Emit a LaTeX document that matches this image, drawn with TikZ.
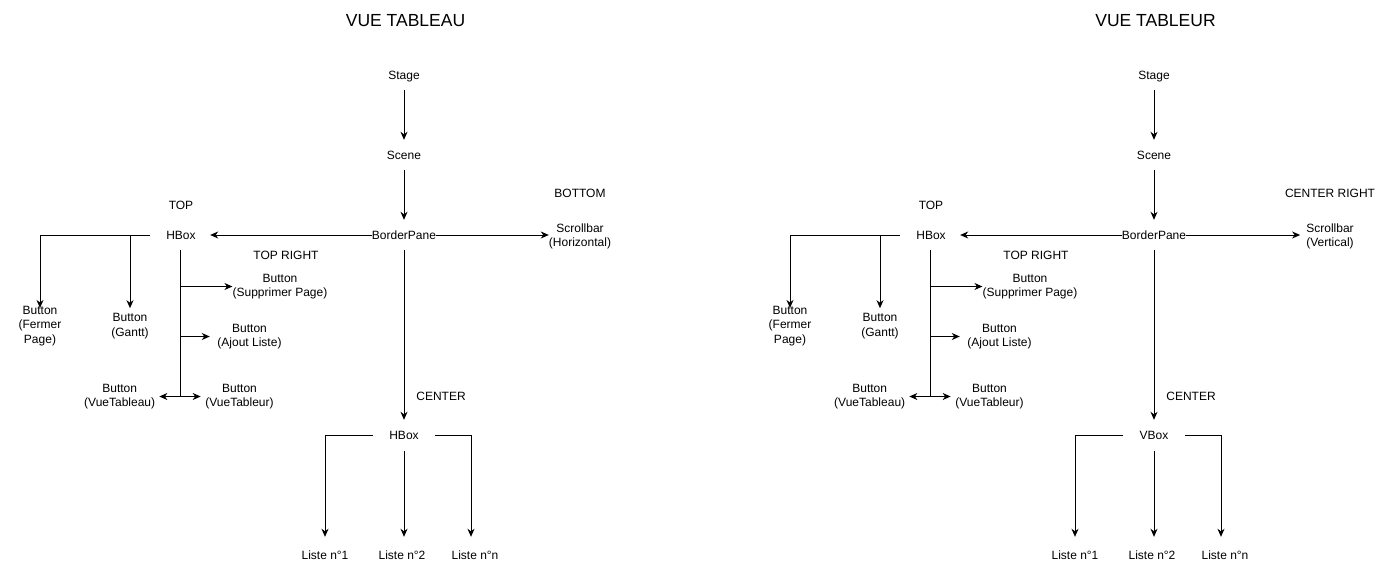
\documentclass[tikz,border=0pt]{standalone}
\usepackage{fontspec}
\setmainfont{Liberation Sans}
\usetikzlibrary{arrows.meta}
\tikzset{
  lbl/.style={inner sep=0pt, align=center, font=\fontsize{12}{14.5}\selectfont, text height=8.6pt, text depth=0pt},
  mlbl/.style={inner sep=0pt, align=center, font=\fontsize{12}{14.5}\selectfont, yshift=-1pt},
  ttl/.style={inner sep=0pt, font=\fontsize{17.5}{20}\selectfont, text height=12.6pt, text depth=0pt},
  conn/.style={line width=1pt, draw=black},
  tip/.tip={Stealth[length=8pt,width=7pt,inset=2.5pt]},
  arr/.style={conn, -tip},
  darr/.style={conn, tip-tip},
}
\newcommand\drawhalf[5]{%
  \node[ttl] (title) at (405.5,20) {#1};
  \node[lbl] (stage) at (404,75) {Stage};
  \node[lbl] (scene) at (404,155) {Scene};
  \node[lbl] (bp) at (404,235) {BorderPane};
  \node[lbl] (hbox) at (181,235) {HBox};
  \node[mlbl] (scroll) at (580,235.5) {Scrollbar\\#3};
  \node[lbl] (poslbl) at (580,193) {#2};
  \node[lbl] (toplbl) at (181,205) {TOP};
  \node[lbl] (toprlbl) at (286,255) {TOP RIGHT};
  \node[lbl] (centerlbl) at (441,396) {CENTER};
  \node[lbl] (cbox) at (404,435) {#4};
  \node[lbl] (l1) at (325,555) {Liste n°1};
  \node[lbl] (l2) at (402,555) {Liste n°2};
  \node[lbl] (ln) at (475,555) {Liste n°n};
  \node[mlbl] (btnF) at (40,325) {Button\\(Fermer\\Page)};
  \node[mlbl] (btnG) at (130,325) {Button\\(Gantt)};
  \node[mlbl] (btnS) at (280,285.5) {Button\\(Supprimer Page)};
  \node[mlbl] (btnA) at (249.5,335.5) {Button\\(Ajout Liste)};
  \node[mlbl] (btnVT) at (119.7,395.5) {Button\\(VueTableau)};
  \node[mlbl] (btnVR) at (239.5,395.5) {Button\\(VueTableur)};
  % main column
  \draw[arr, shorten <=10.7pt, shorten >=10.7pt] (stage.south) -- (scene.north);
  \draw[arr, shorten <=10.7pt, shorten >=10.7pt] (scene.south) -- (bp.north);
  \draw[arr, shorten >=14.3pt] (bp.west) -- (hbox.east);
  \draw[arr, shorten >=#5] (bp.east) -- (bp.east -| scroll.west);
  \draw[arr, shorten <=10.7pt, shorten >=10.7pt] (bp.south) -- (cbox.north);
  % top hbox children
  \draw[arr, shorten <=16.3pt, shorten >=-2pt] (hbox.west) -| (btnF.north);
  \draw[arr, shorten >=5pt] (btnG.north |- hbox.west) -- (btnG.north);
  \draw[conn, shorten <=10.7pt] ([xshift=-1pt]hbox.south) -- ([xshift=-1pt]hbox.south |- btnVT.east);
  \draw[arr] ([xshift=-1pt]hbox.south |- btnS.west) -- (btnS.west);
  \draw[arr, shorten >=7.5pt] ([xshift=-1pt]hbox.south |- btnA.west) -- (btnA.west);
  \draw[arr, shorten >=4pt] ([xshift=-1pt]hbox.south |- btnVT.east) -- (btnVT.east);
  \draw[arr, shorten >=4.5pt] ([xshift=-1pt]hbox.south |- btnVR.west) -- (btnVR.west);
  % center box children
  \draw[arr, shorten <=16.3pt, shorten >=13.7pt] (cbox.west) -| (l1.north);
  \draw[arr, shorten <=11.4pt, shorten >=13.7pt] (cbox.south) -- (cbox.south |- l2.north);
  \draw[arr, shorten <=16.3pt, shorten >=13.7pt] (cbox.east) -| ([xshift=-4pt]ln.north);
}
\begin{document}
\begin{tikzpicture}[x=1pt, y=-1pt]
  \useasboundingbox (0,0) rectangle (1385,571);
  \begin{scope}[name prefix=L-]
    \drawhalf{VUE TABLEAU}{BOTTOM}{(Horizontal)}{HBox}{0pt}
  \end{scope}
  \begin{scope}[xshift=750pt, name prefix=R-]
    \drawhalf{VUE TABLEUR}{CENTER RIGHT}{(Vertical)}{VBox}{6pt}
  \end{scope}
\end{tikzpicture}
\end{document}
